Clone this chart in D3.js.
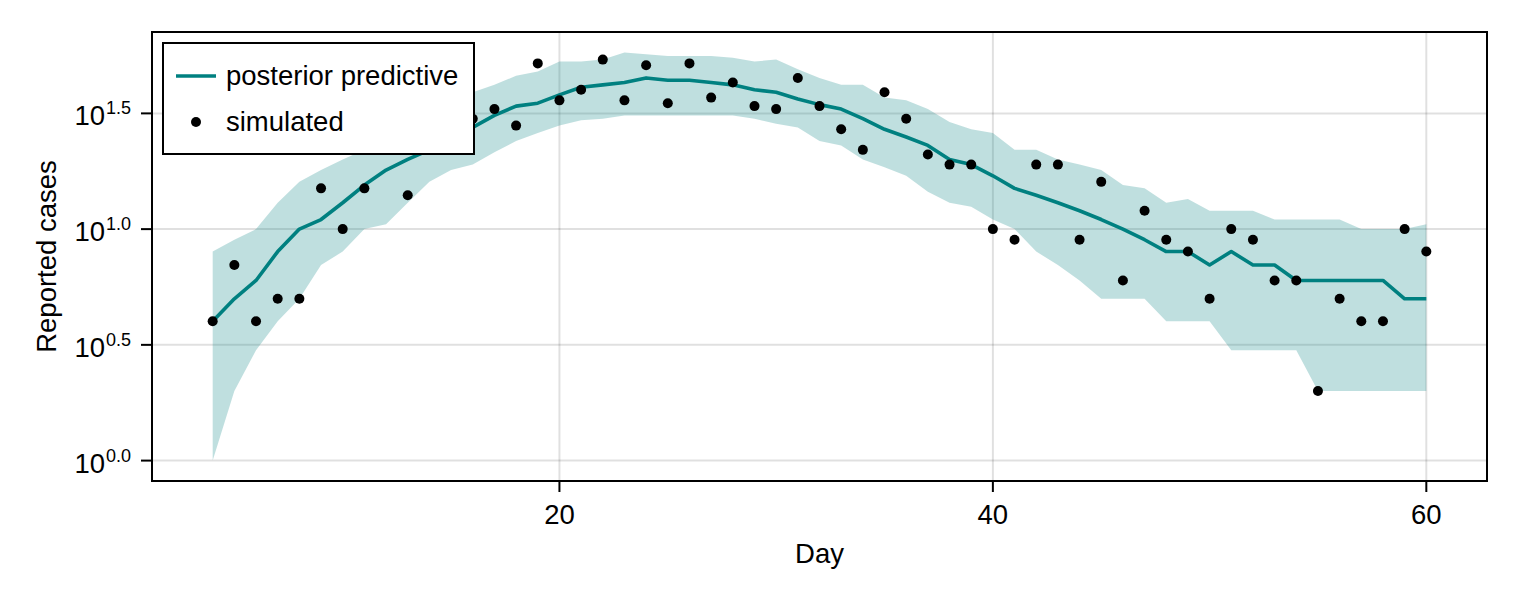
<!DOCTYPE html>
<html>
<head>
<meta charset="utf-8">
<script src="https://cdn.jsdelivr.net/npm/d3@7"></script>
<style>
  body { margin: 0; background: #fff; }
  text { font-family: "Liberation Sans", Arial, sans-serif; fill: #000; }
</style>
</head>
<body>
<div id="chart"></div>
<script>
// days 4..60
const days = d3.range(4, 61);

// simulated reported cases (dots)
const simulated = [4, 7, 4, 5, 5, 15, 10, 15, 24, 14, 27, 25, 30, 33, 28, 52, 36, 40, 54, 36,
  51, 35, 52, 37, 43, 34, 33, 45, 34, 27, 22, 39, 30, 21, 19, 19, 10, 9, 19, 19,
  9, 16, 6, 12, 9, 8, 5, 10, 9, 6, 6, 2, 5, 4, 4, 10, 8];

// posterior predictive median
const median = [4, 5, 6, 8, 10, 11, 13, 15.5, 18, 20, 22, 25, 27.5, 31, 34, 35, 38, 41, 42, 43,
  45, 44, 44, 43, 42, 40, 39, 36.5, 34.5, 33, 30, 27, 25, 23, 20, 19, 17, 15, 14, 13,
  12, 11, 10, 9, 8, 8, 7, 8, 7, 7, 6, 6, 6, 6, 6, 5, 5];

// posterior predictive interval
const lower = [1, 2, 3, 4, 5, 7, 8, 10, 10.5, 13, 16, 18, 19, 21.5, 24, 26, 28, 29.5, 30, 31,
  31, 31, 31, 31, 31, 30, 28.5, 27.5, 24, 23, 20, 18.5, 17, 14.5, 13, 12.5, 11, 10, 8, 7,
  6, 5, 5, 5, 4, 4, 4, 3, 3, 3, 3, 2, 2, 2, 2, 2, 2];
const upper = [8, 9, 10, 13, 16, 18, 20, 22, 25, 28, 31, 35, 39, 42, 46, 48, 53, 53, 54, 58,
  57, 56, 56, 56, 55, 53, 54, 49, 45, 42, 42, 37, 36, 33, 29, 27, 26, 22, 22, 20,
  19, 18, 15.5, 15, 13, 13.5, 12, 12, 12, 11, 11, 11, 11, 10, 10, 10, 10.5];

const xTicks = [20, 40, 60];
const yTickExps = ["0.0", "0.5", "1.0", "1.5"];

const width = 1520, height = 600;
const margin = {top: 32, right: 33, bottom: 119, left: 152};
const teal = "#008080";
const fs = 27.5;

const svg = d3.select("#chart").append("svg")
  .attr("width", width)
  .attr("height", height);

const plotW = width - margin.left - margin.right;
const plotH = height - margin.top - margin.bottom;

// 5% padding like the source, y padding in log space
const xExt = d3.extent(days);
const xPad = (xExt[1] - xExt[0]) * 0.05;
const x = d3.scaleLinear()
  .domain([xExt[0] - xPad, xExt[1] + xPad])
  .range([0, plotW]);

const lMin = Math.log10(d3.min(lower));
const lMax = Math.log10(d3.max(upper));
const lPad = (lMax - lMin) * 0.05;
const y = d3.scaleLog()
  .domain([Math.pow(10, lMin - lPad), Math.pow(10, lMax + lPad)])
  .range([plotH, 0]);

const g = svg.append("g")
  .attr("transform", "translate(" + margin.left + "," + margin.top + ")");

// grid
g.append("g").selectAll("line")
  .data(xTicks).enter().append("line")
  .attr("x1", (d) => x(d)).attr("x2", (d) => x(d))
  .attr("y1", 0).attr("y2", plotH)
  .attr("stroke", "rgba(0,0,0,0.12)").attr("stroke-width", 2);

g.append("g").selectAll("line")
  .data(yTickExps).enter().append("line")
  .attr("x1", 0).attr("x2", plotW)
  .attr("y1", (d) => y(Math.pow(10, +d))).attr("y2", (d) => y(Math.pow(10, +d)))
  .attr("stroke", "rgba(0,0,0,0.12)").attr("stroke-width", 2);

// band
const band = d3.area()
  .x((d, i) => x(days[i]))
  .y0((d, i) => y(lower[i]))
  .y1((d, i) => y(upper[i]));

g.append("path")
  .datum(days)
  .attr("d", band)
  .attr("fill", "rgba(0,128,128,0.25)");

// median line
const line = d3.line()
  .x((d, i) => x(days[i]))
  .y((d) => y(d));

g.append("path")
  .datum(median)
  .attr("d", line)
  .attr("fill", "none")
  .attr("stroke", teal)
  .attr("stroke-width", 3.6)
  .attr("stroke-linejoin", "round");

// simulated points
g.append("g").selectAll("circle")
  .data(simulated).enter().append("circle")
  .attr("cx", (d, i) => x(days[i]))
  .attr("cy", (d) => y(d))
  .attr("r", 5)
  .attr("fill", "#000");

// frame
g.append("rect")
  .attr("width", plotW).attr("height", plotH)
  .attr("fill", "none").attr("stroke", "#000").attr("stroke-width", 2);

// x axis
const xAxis = g.append("g").attr("transform", "translate(0," + plotH + ")");
xAxis.selectAll("line")
  .data(xTicks).enter().append("line")
  .attr("x1", (d) => x(d)).attr("x2", (d) => x(d))
  .attr("y1", 0).attr("y2", 11)
  .attr("stroke", "#000").attr("stroke-width", 2);
xAxis.selectAll("text")
  .data(xTicks).enter().append("text")
  .attr("x", (d) => x(d))
  .attr("y", 43)
  .attr("text-anchor", "middle")
  .attr("font-size", fs)
  .text((d) => d);

// y axis
const yAxis = g.append("g");
yAxis.selectAll("line")
  .data(yTickExps).enter().append("line")
  .attr("x1", -11).attr("x2", 0)
  .attr("y1", (d) => y(Math.pow(10, +d))).attr("y2", (d) => y(Math.pow(10, +d)))
  .attr("stroke", "#000").attr("stroke-width", 2);
const yLab = yAxis.selectAll("text")
  .data(yTickExps).enter().append("text")
  .attr("x", -21)
  .attr("y", (d) => y(Math.pow(10, +d)) + 12)
  .attr("text-anchor", "end")
  .attr("font-size", fs);
yLab.append("tspan").text("10");
yLab.append("tspan")
  .attr("font-size", 18)
  .attr("dx", 1)
  .attr("dy", -11)
  .text((d) => d);

// axis titles
svg.append("text")
  .attr("x", margin.left + plotW / 2)
  .attr("y", 563)
  .attr("text-anchor", "middle")
  .attr("font-size", fs)
  .text("Day");

svg.append("text")
  .attr("transform", "translate(56," + (margin.top + plotH / 2) + ") rotate(-90)")
  .attr("text-anchor", "middle")
  .attr("font-size", fs)
  .text("Reported cases");

// legend
const legend = svg.append("g").attr("transform", "translate(163,43)");
legend.append("rect")
  .attr("width", 311).attr("height", 111)
  .attr("fill", "#fff").attr("stroke", "#000").attr("stroke-width", 2);
legend.append("line")
  .attr("x1", 13).attr("x2", 53).attr("y1", 33).attr("y2", 33)
  .attr("stroke", teal).attr("stroke-width", 3.6);
legend.append("circle")
  .attr("cx", 33).attr("cy", 79).attr("r", 5).attr("fill", "#000");
legend.append("text")
  .attr("x", 63).attr("y", 42)
  .attr("font-size", fs)
  .text("posterior predictive");
legend.append("text")
  .attr("x", 63).attr("y", 88)
  .attr("font-size", fs)
  .text("simulated");
</script>
</body>
</html>
